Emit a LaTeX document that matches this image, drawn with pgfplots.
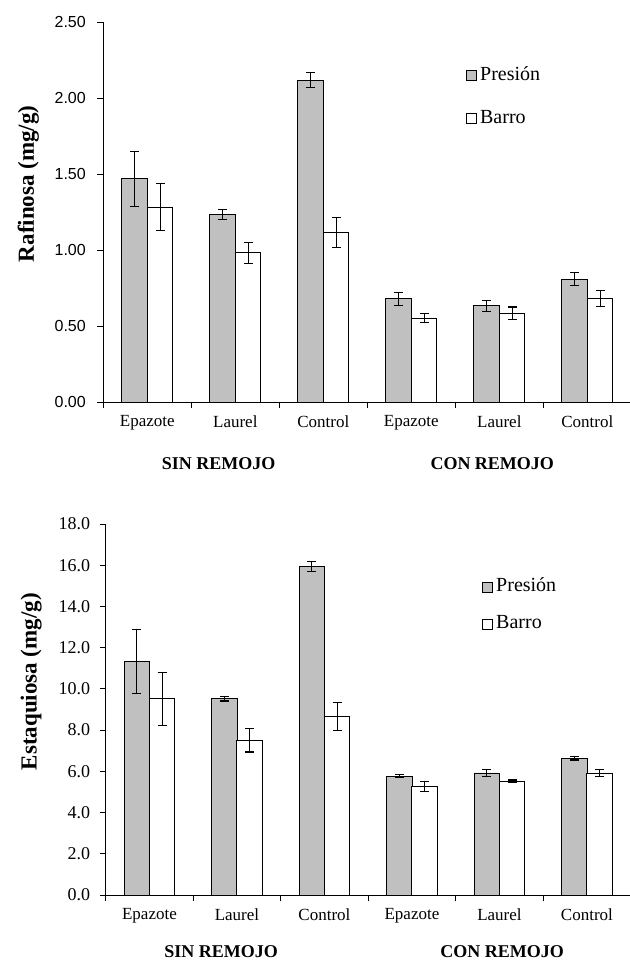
\documentclass[border=0pt]{standalone}
\usepackage{pgfplots}
\pgfplotsset{compat=1.18}
\usepackage{pgfplotstable}
\usepackage{fontspec}
\setmainfont{Liberation Serif}
\newfontfamily\arialfont{Liberation Sans}
\definecolor{barfill}{HTML}{C0C0C0}

% x  presion  err   barro  err
\pgfplotstableread{
x  pres   presE  barro  barroE
0  1.470  0.180  1.285  0.157
1  1.235  0.034  0.983  0.070
2  2.120  0.050  1.117  0.100
3  0.680  0.042  0.553  0.030
4  0.635  0.037  0.585  0.042
5  0.810  0.041  0.683  0.050
}\rafinosa

\pgfplotstableread{
x  pres   presE  barro  barroE
0  11.32  1.56   9.52   1.28
1  9.53   0.12   7.51   0.57
2  15.93  0.24   8.68   0.68
3  5.76   0.07   5.27   0.23
4  5.92   0.15   5.53   0.05
5  6.63   0.08   5.90   0.17
}\estaquiosa

\pgfplotsset{
  sugar/.style={
    scale only axis,
    clip=false,
    xmin=-0.5, xmax=5.5,
    ymin=0,
    axis x line*=bottom,
    axis y line*=left,
    axis line style={line width=0.9bp, black},
    xtick={0,...,5},
    xticklabels={Epazote,Laurel,Control,Epazote,Laurel,Control},
    major x tick style={draw=none},
    minor xtick={-0.5,0.5,...,5.5},
    minor x tick style={line width=0.9bp, black},
    minor tick length=6bp,
    major tick length=6bp,
    tick align=outside,
    ytick style={line width=0.9bp, black},
    xticklabel style={font=\fontsize{17bp}{19bp}\selectfont, yshift=-4bp},
    /pgf/number format/assume math mode=true,
    every axis y label/.style={at={(axis description cs:-0.142,0.575)}, rotate=90, anchor=center,
      font=\bfseries\fontsize{23bp}{25bp}\selectfont},
    legend style={draw=none, fill=none, inner sep=0pt,
      font=\fontsize{20bp}{22bp}\selectfont,
      nodes={inner sep=0pt, text height=14bp, text depth=4bp},
      /tikz/every odd column/.append style={column sep=3bp},
      cells={anchor=west}},
    legend image code/.code={\draw[#1] (0bp,-5bp) rectangle (10bp,5bp);},
  },
  % bars are placed beside the category centre through their x value
  presbar/.style={ybar, bar width=25.5bp, bar shift=0pt, fill=barfill, draw=black, line width=0.9bp,
    error bars/.cd, y dir=both, y explicit,
    error bar style={line width=1.1bp, black},
    error mark options={rotate=90, mark size=4.5bp, line width=1.1bp, black}},
  barrobar/.style={ybar, bar width=25.5bp, bar shift=0pt, fill=white, draw=black, line width=0.9bp,
    error bars/.cd, y dir=both, y explicit,
    error bar style={line width=1.1bp, black},
    error mark options={rotate=90, mark size=4.5bp, line width=1.1bp, black}},
}

\begin{document}
\begin{tikzpicture}
\path[use as bounding box] (0,0) rectangle (630bp,960bp);
\clip (0,0) rectangle (630bp,960bp);

% Rafinosa
\begin{axis}[sugar,
  at={(103.3bp,557.7bp)}, anchor=south west,
  width=528bp, height=380bp,
  ymax=2.5, ytick={0,0.5,...,2.5},
  yticklabel style={font=\arialfont\fontsize{16bp}{18bp}\selectfont, xshift=-8bp,
    /pgf/number format/.cd, fixed, fixed zerofill, precision=2},
  ylabel={Rafinosa (mg/g)},
  legend style={at={(rel axis cs:0.687,0.885)}, anchor=north west, row sep=25bp},
]
\addplot[presbar] table[x expr=\thisrow{x}-0.145, y=pres, y error=presE]{\rafinosa};
\addlegendentry{Presión}
\addplot[barrobar] table[x expr=\thisrow{x}+0.145, y=barro, y error=barroE]{\rafinosa};
\addlegendentry{Barro}
\node[font=\bfseries\fontsize{18bp}{20bp}\selectfont] at (axis cs:0.81,0) [yshift=-61bp] {SIN REMOJO};
\node[font=\bfseries\fontsize{18bp}{20bp}\selectfont] at (axis cs:3.92,0) [yshift=-61bp] {CON REMOJO};
\end{axis}

% Estaquiosa
\begin{axis}[sugar,
  at={(105.7bp,65bp)}, anchor=south west,
  width=525bp, height=371bp,
  ymax=18, ytick={0,2,...,18},
  yticklabel style={font=\fontsize{18bp}{20bp}\selectfont, xshift=-6bp,
    /pgf/number format/.cd, fixed, fixed zerofill, precision=1},
  ylabel={Estaquiosa (mg/g)},
  legend style={at={(rel axis cs:0.717,0.855)}, anchor=north west, row sep=19bp},
]
\addplot[presbar] table[x expr=\thisrow{x}-0.145, y=pres, y error=presE]{\estaquiosa};
\addlegendentry{Presión}
\addplot[barrobar] table[x expr=\thisrow{x}+0.145, y=barro, y error=barroE]{\estaquiosa};
\addlegendentry{Barro}
\node[font=\bfseries\fontsize{18bp}{20bp}\selectfont] at (axis cs:0.82,0) [yshift=-57bp] {SIN REMOJO};
\node[font=\bfseries\fontsize{18bp}{20bp}\selectfont] at (axis cs:4.03,0) [yshift=-57bp] {CON REMOJO};
\end{axis}
\end{tikzpicture}
\end{document}
